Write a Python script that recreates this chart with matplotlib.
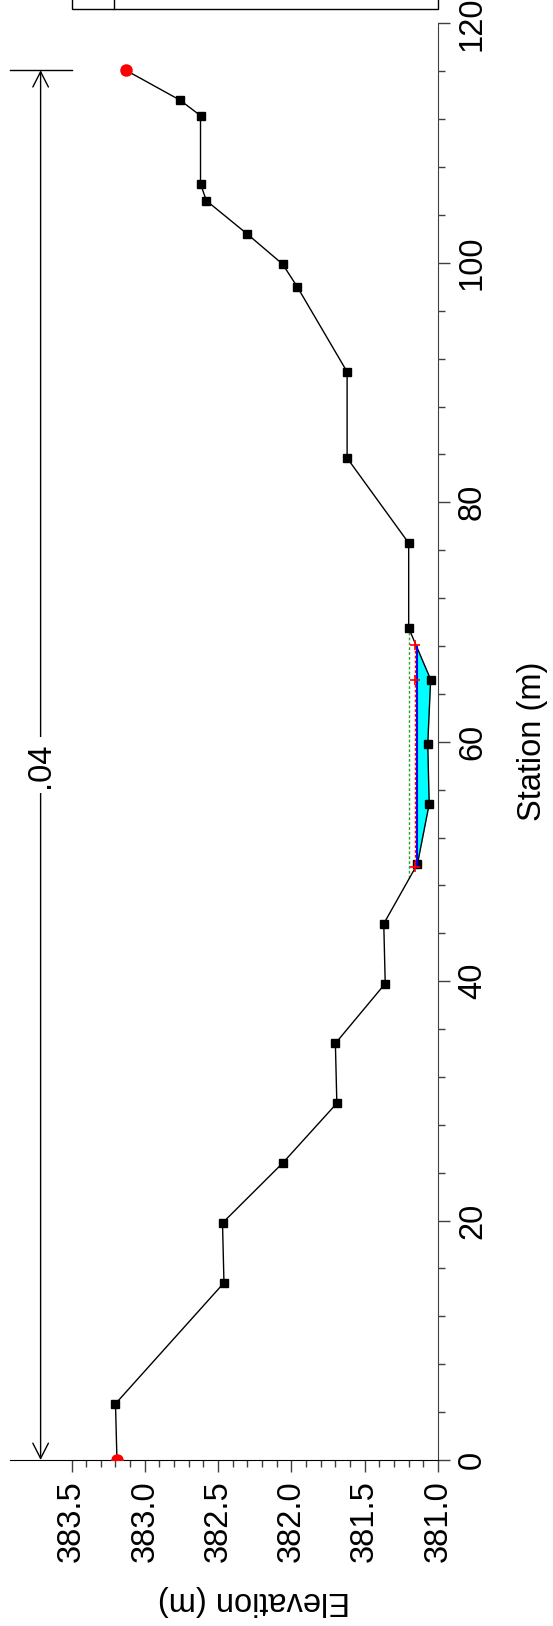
import matplotlib
matplotlib.use("Agg")
import matplotlib.pyplot as plt
import matplotlib.transforms as mtransforms
from matplotlib.patches import Rectangle
from matplotlib.lines import Line2D
import numpy as np

plt.rcParams['font.family'] = ['Liberation Sans', 'DejaVu Sans']

# ground profile of the cross section
station = [0.0, 4.7, 14.8, 19.8, 24.8, 29.8, 34.8, 39.8, 44.8, 49.8, 54.8, 59.8,
           65.2, 69.5, 76.6, 83.7, 90.9, 98.0, 99.9, 102.4, 105.2, 106.6, 112.3,
           113.6, 116.1]
elevation = [383.19, 383.20, 382.46, 382.47, 382.06, 381.69, 381.70, 381.36,
             381.37, 381.14, 381.06, 381.07, 381.05, 381.20, 381.20, 381.62,
             381.62, 381.96, 382.06, 382.30, 382.58, 382.62, 382.62, 382.76,
             383.13]

bank_station = [0.0, 116.1]
bank_elev = [383.19, 383.13]

ws_elev = 381.145
ws_extent = [49.6, 67.9]
crit_elev = 381.155
crit_station = [49.5, 65.2, 68.1]
eg_elev = 381.196
eg_extent = [48.6, 69.4]

n_value = '.04'

FS = 23.5

fig = plt.figure(figsize=(5.53, 16.26), dpi=100)
ax = fig.add_axes([0.01718, 0.10209, 0.77486, 0.88346])

st = np.array(station)
el = np.array(elevation)

# water in the channel
ax.fill_betweenx(st, el, ws_elev, where=el <= ws_elev + 1e-9, interpolate=True,
                 color='#00FFFF', linewidth=0, zorder=1)

ax.plot(elevation, station, color='black', lw=1.0, marker='s', ms=5.5,
        mfc='black', mec='black', zorder=3)
ax.plot(bank_elev, bank_station, ls='none', marker='o', ms=8, color='red',
        zorder=4)

ax.plot([eg_elev, eg_elev], eg_extent, color='#2ca02c', lw=1.0,
        ls=(0, (2, 1.5)), zorder=2)
ax.plot([ws_elev, ws_elev], ws_extent, color='blue', lw=1.5, zorder=3)
ax.plot([crit_elev] * 2, [crit_station[0], crit_station[-1]], color='red',
        lw=1.0, ls=(0, (2, 1.5)), zorder=3)
ax.plot([crit_elev] * len(crit_station), crit_station, ls='none', marker='+',
        ms=7, mew=1.2, color='red', zorder=4)

ax.set_xlim(383.923, 381.0)
ax.set_ylim(0, 120)

# Manning's n bracket between the bank stations
trans = mtransforms.blended_transform_factory(ax.transAxes, ax.transData)
ax.annotate('', xy=(0.0726, bank_station[1]), xytext=(0.0726, bank_station[0]),
            xycoords=trans, textcoords=trans, annotation_clip=False,
            arrowprops=dict(arrowstyle='<->,head_length=0.55,head_width=0.28',
                            mutation_scale=20, lw=1.0, color='black',
                            shrinkA=0, shrinkB=0))
ax.plot([383.923, 383.5], [bank_station[1]] * 2, color='black', lw=1.0,
        clip_on=False)
ax.text(0.0726, np.mean(bank_station), n_value, transform=trans, rotation=90,
        ha='center', va='center', fontsize=FS,
        bbox=dict(facecolor='white', edgecolor='none', pad=4))

for side in ['top', 'left']:
    ax.spines[side].set_visible(False)
ax.spines['bottom'].set_color('black')
ax.spines['right'].set_color('#404040')
ax.yaxis.tick_right()

ax.set_xticks(np.arange(381.0, 383.51, 0.5))
ax.set_xticks(np.arange(381.0, 383.51, 0.1), minor=True)
ax.set_yticks(np.arange(0, 121, 20))
ax.set_yticks(np.arange(0, 121, 4), minor=True)
ax.xaxis.set_major_formatter(matplotlib.ticker.FormatStrFormatter('%.1f'))

ax.tick_params(axis='both', which='major', length=8.6, width=1.0,
               color='#404040', labelsize=FS)
ax.tick_params(axis='both', which='minor', length=5.3, width=1.0,
               color='#404040')
ax.tick_params(axis='x', pad=6)
ax.tick_params(axis='y', pad=5)
plt.setp(ax.get_xticklabels(), rotation=90)
plt.setp(ax.get_yticklabels(), rotation=90, va='center')

fig.text(533 / 553, 1 - 741.7 / 1626, 'Station (m)', rotation=90,
         ha='center', va='center', fontsize=FS)
fig.text(254 / 553, 1 - 1600 / 1626, 'Elevation (m)', rotation=180,
         ha='center', va='center', fontsize=FS)

# legend frame running off the top edge
fig.add_artist(Rectangle((0.1297, 0.99477), 0.6627, 0.05, fill=False,
                         edgecolor='black', lw=1.0, transform=fig.transFigure,
                         clip_on=False))
fig.add_artist(Line2D([0.2061, 0.2061], [0.99477, 1.01], color='black', lw=1.0,
                      transform=fig.transFigure))

fig.savefig('out.png', dpi=100)
